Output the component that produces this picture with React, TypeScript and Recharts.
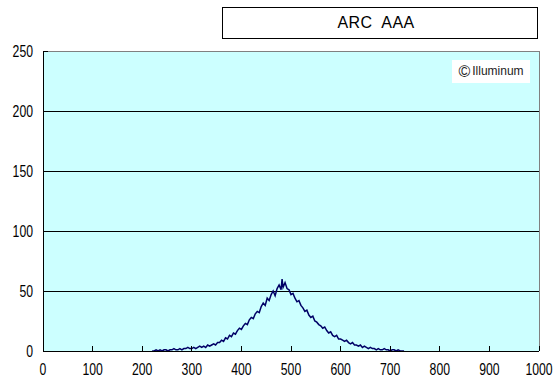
import React from "react";
import {
  LineChart,
  Line,
  XAxis,
  YAxis,
  CartesianGrid,
  ReferenceLine,
} from "recharts";

const title = "ARC AAA";
const watermark = "Illuminum";

const xTicks = [0, 100, 200, 300, 400, 500, 600, 700, 800, 900, 1000];
const yTicks = [0, 50, 100, 150, 200, 250];

// histogram position / count
const positions = [
  220, 224, 228, 232, 236, 240, 244, 248, 252, 256, 260, 264, 268, 272, 276, 280,
  284, 288, 292, 296, 300, 304, 308, 312, 316, 320, 324, 328, 332, 336, 340, 344,
  348, 352, 356, 360, 364, 368, 372, 376, 380, 384, 388, 392, 396, 400, 404, 408,
  412, 416, 420, 424, 428, 432, 436, 440, 444, 448, 452, 456, 460, 464, 468, 472,
  476, 480, 482, 484, 488, 492, 496, 500, 504, 508, 512, 516, 520, 524, 528, 532,
  536, 540, 544, 548, 552, 556, 560, 564, 568, 572, 576, 580, 584, 588, 592, 596,
  600, 604, 608, 612, 616, 620, 624, 628, 632, 636, 640, 644, 648, 652, 656, 660,
  664, 668, 672, 676, 680, 684, 688, 692, 696, 700, 704, 708, 712, 716, 720, 724,
  728,
];
const counts = [
  0, 0, 1, 0, 1, 0, 1, 1, 0, 1, 1, 2, 1, 1, 2, 1,
  2, 2, 3, 2, 2, 3, 2, 3, 4, 3, 4, 3, 5, 4, 5, 6,
  5, 7, 7, 9, 8, 11, 10, 13, 12, 15, 14, 17, 19, 18, 21, 23,
  22, 26, 28, 27, 31, 33, 32, 37, 40, 38, 44, 42, 47, 50, 46, 52,
  55, 51, 60, 53, 57, 52, 51, 47, 48, 44, 41, 42, 38, 36, 33, 34,
  30, 28, 29, 25, 24, 22, 21, 19, 20, 17, 15, 16, 13, 12, 13, 10,
  10, 9, 8, 9, 7, 6, 7, 5, 5, 4, 5, 3, 4, 3, 2, 3,
  2, 2, 1, 2, 1, 1, 2, 1, 1, 0, 1, 1, 0, 1, 0, 0,
  0,
];

const data = positions.map((x, i) => ({ x, count: counts[i] }));

const tickText = {
  fontFamily: "'Liberation Sans', Arial, sans-serif",
  fontSize: 17,
  fill: "#000",
};

const XTick = (props: any) => {
  const { x, y, payload } = props;
  return (
    <g transform={`translate(${x},${y + 15})`}>
      <text transform="scale(0.72,1)" textAnchor="middle" {...tickText}>
        {payload.value}
      </text>
    </g>
  );
};

const YTick = (props: any) => {
  const { x, y, payload } = props;
  return (
    <g transform={`translate(${x},${y + 6})`}>
      <text transform="scale(0.72,1)" textAnchor="end" {...tickText}>
        {payload.value}
      </text>
    </g>
  );
};

export default function App() {
  return (
    <div style={{ position: "absolute", left: 0, top: 0, width: 560, height: 380, background: "#fff" }}>
      <LineChart
        width={560}
        height={380}
        data={data}
        margin={{ top: 51, right: 21, left: 0, bottom: 0 }}
      >
        <CartesianGrid
          vertical={false}
          stroke="#000"
          fill="#CCFFFF"
          fillOpacity={1}
          shapeRendering="crispEdges"
        />
        <XAxis
          type="number"
          dataKey="x"
          domain={[0, 1000]}
          ticks={xTicks}
          interval={0}
          height={29}
          stroke="#000"
          tickSize={-5}
          tickMargin={14}
          tick={<XTick />}
          shapeRendering="crispEdges"
        />
        <YAxis
          type="number"
          domain={[0, 250]}
          ticks={yTicks}
          interval={0}
          width={43}
          stroke="#000"
          tickSize={-5}
          tickMargin={15}
          tick={<YTick />}
          shapeRendering="crispEdges"
        />
        <ReferenceLine y={250} stroke="#808080" shapeRendering="crispEdges" />
        <ReferenceLine x={1000} stroke="#808080" shapeRendering="crispEdges" />
        <Line
          type="linear"
          dataKey="count"
          stroke="#000066"
          strokeWidth={1.5}
          dot={false}
          isAnimationActive={false}
        />
      </LineChart>
      <div
        style={{
          position: "absolute",
          left: 222,
          top: 7,
          width: 314,
          height: 30,
          border: "1px solid #000",
          background: "#fff",
          fontFamily: "'Liberation Sans', Arial, sans-serif",
          fontSize: 16,
          letterSpacing: 0.4,
          wordSpacing: 5,
          lineHeight: "30px",
          textAlign: "center",
          textIndent: -8,
        }}
      >
        {title}
      </div>
      <div
        style={{
          position: "absolute",
          left: 452,
          top: 60,
          width: 78,
          height: 23,
          background: "#fff",
          fontFamily: "'Liberation Sans', Arial, sans-serif",
          fontSize: 12,
          lineHeight: "23px",
          color: "#222",
          display: "flex",
          alignItems: "center",
          justifyContent: "center",
          gap: 2,
        }}
      >
        <span style={{ fontSize: 16, lineHeight: "16px" }}>{"\u00A9"}</span>
        <span>{watermark}</span>
      </div>
    </div>
  );
}
